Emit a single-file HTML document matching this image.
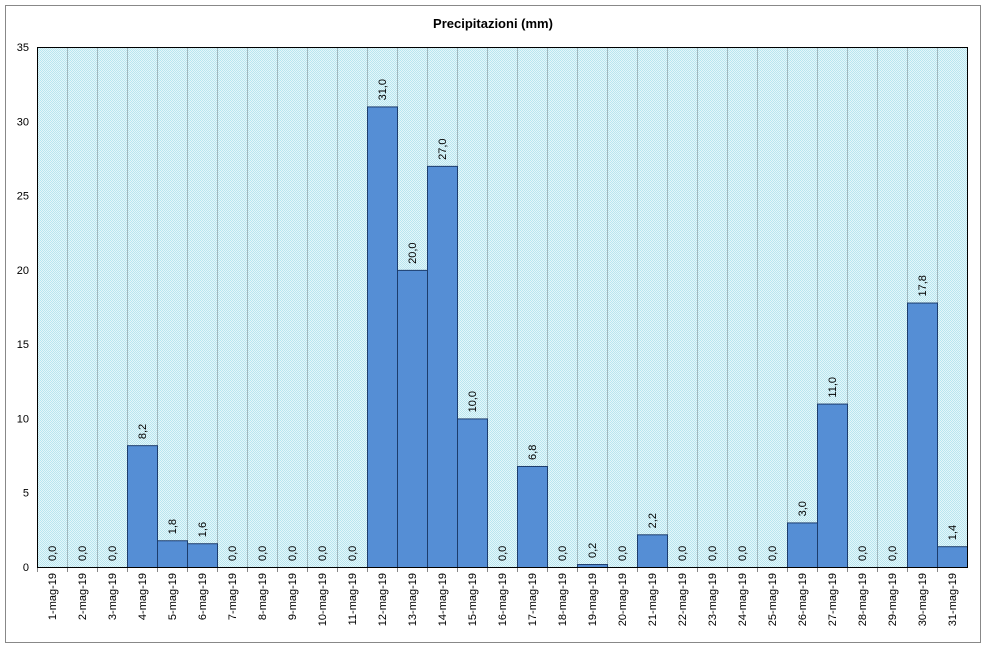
<!DOCTYPE html>
<html><head><meta charset="utf-8"><style>
body{margin:0;background:#fff;font-family:"Liberation Sans","DejaVu Sans",sans-serif}
svg{display:block}
</style></head><body>
<svg id="c" width="986" height="647">
<defs><pattern id="hatch" width="2" height="2" patternUnits="userSpaceOnUse">
<rect width="2" height="2" fill="#e4f6fa"/><rect width="1" height="1" fill="#b9e6ef"/><rect x="1" y="1" width="1" height="1" fill="#b9e6ef"/></pattern></defs>
<rect x="5.5" y="5.5" width="975" height="637" fill="#fff" stroke="#888"/>
<text x="493" y="28" text-anchor="middle" font-size="13" font-weight="bold">Precipitazioni (mm)</text>
</svg>
<script>
const categories=[];for(let d=1;d<=31;d++)categories.push(d+"-mag-19");
const values=[0,0,0,8.2,1.8,1.6,0,0,0,0,0,31,20,27,10,0,6.8,0,0.2,0,2.2,0,0,0,0,3,11,0,0,17.8,1.4];
const yTicks=[0,5,10,15,20,25,30,35];
const svg=document.getElementById('c');const NS="http://www.w3.org/2000/svg";
const L=37,R=967,T=47,B=567,yMax=35;
const bw=(R-L)/categories.length;
const x=i=>L+i*bw;const y=v=>B-(v/yMax)*(B-T);
function mk(tag,a,p){const e=document.createElementNS(NS,tag);for(const k in a)e.setAttribute(k,a[k]);(p||svg).appendChild(e);return e;}
const plot=mk('rect',{x:L,y:T,width:R-L,height:B-T,fill:'url(#hatch)'});


for(let i=1;i<categories.length;i++){const g=mk('line',{x1:x(i)+.5,x2:x(i)+.5,y1:T,y2:B,stroke:'#9fb7bd'});

}
yTicks.forEach(t=>{const tx=mk('text',{x:L-8,y:y(t)+4,'text-anchor':'end','font-size':11});tx.textContent=t;

});
values.forEach((v,i)=>{
 if(v>0){const b=mk('rect',{x:x(i)+.5,y:y(v)+.5,width:bw,height:B-y(v),fill:'#558ed5',stroke:'#1c3c6c','stroke-width':1});
 
 }
 const lx=x(i)+bw/2+4,ly=y(v)-6;
 const t=mk('text',{x:lx,y:ly,'font-size':11,transform:`rotate(-90 ${lx} ${ly})`});
 t.textContent=v.toFixed(1).replace('.',',');
 
 
 const cx=x(i)+bw/2+4,cy=B+6;
 const c=mk('text',{x:cx,y:cy,'font-size':11,'text-anchor':'end',transform:`rotate(-90 ${cx} ${cy})`});
 c.textContent=categories[i];
 
 
 const tk=mk('line',{x1:x(i)+.5,x2:x(i)+.5,y1:B,y2:B+5,stroke:'#888'});
 
 
});
const fr=mk('rect',{x:L+.5,y:T+.5,width:R-L,height:B-T,fill:'none',stroke:'#000'});


</script>
</body></html>
